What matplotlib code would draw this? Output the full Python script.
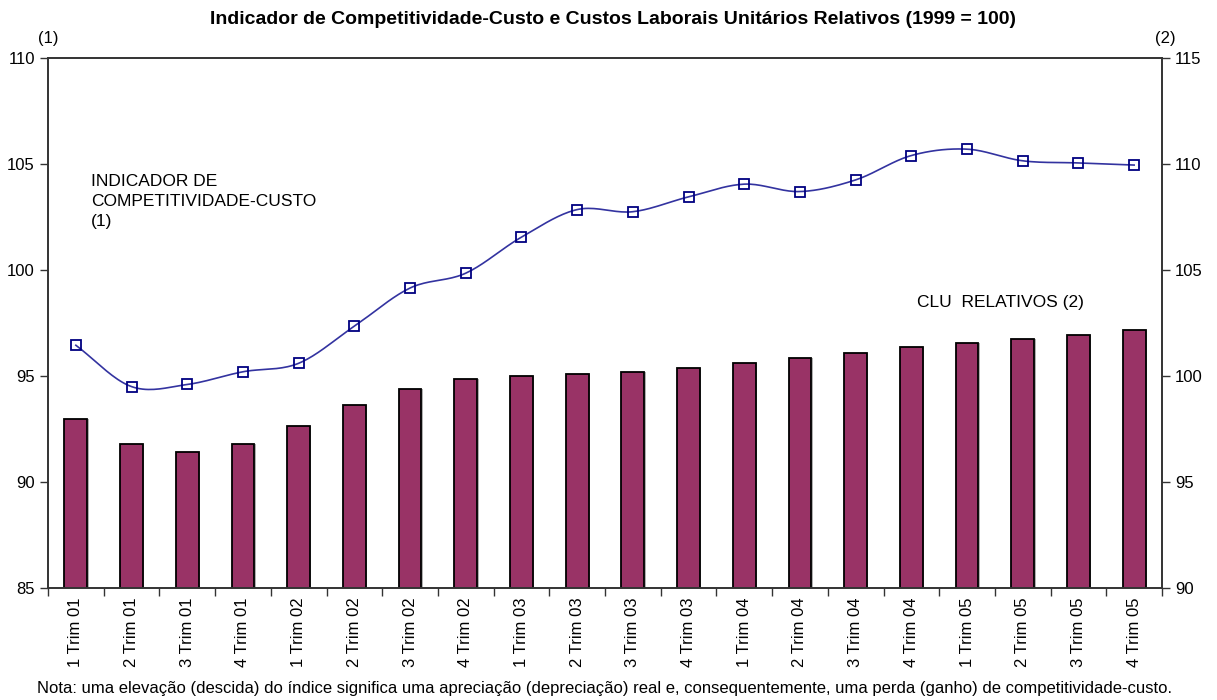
import numpy as np
import matplotlib.pyplot as plt

plt.rcParams['font.family'] = ['Liberation Sans', 'DejaVu Sans']

# quarters shown on the x axis
trimestres = ['1 Trim 01', '2 Trim 01', '3 Trim 01', '4 Trim 01',
              '1 Trim 02', '2 Trim 02', '3 Trim 02', '4 Trim 02',
              '1 Trim 03', '2 Trim 03', '3 Trim 03', '4 Trim 03',
              '1 Trim 04', '2 Trim 04', '3 Trim 04', '4 Trim 04',
              '1 Trim 05', '2 Trim 05', '3 Trim 05', '4 Trim 05']

# (1) competitiveness indicator, left axis
indicador = [96.45, 94.5, 94.6, 95.2, 95.6, 97.35, 99.15, 99.85,
             101.55, 102.85, 102.75, 103.45, 104.05, 103.7, 104.25, 105.4,
             105.7, 105.15, 105.05, 104.95]

# (2) relative unit labour costs, right axis
clu = [97.95, 96.8, 96.4, 96.8, 97.65, 98.65, 99.4, 99.85,
       100.0, 100.1, 100.2, 100.4, 100.6, 100.85, 101.1, 101.35,
       101.55, 101.75, 101.95, 102.15]

x = np.arange(len(trimestres))


def catmull_rom(xs, ys, n=20):
    # smooth curve through the points, like the spreadsheet's smoothed line
    px = np.concatenate([[2 * xs[0] - xs[1]], xs, [2 * xs[-1] - xs[-2]]])
    py = np.concatenate([[2 * ys[0] - ys[1]], ys, [2 * ys[-1] - ys[-2]]])
    outx, outy = [], []
    t = np.linspace(0, 1, n, endpoint=False)
    for i in range(1, len(px) - 2):
        for p, out in ((px, outx), (py, outy)):
            p0, p1, p2, p3 = p[i - 1], p[i], p[i + 1], p[i + 2]
            out.extend(0.5 * ((2 * p1) + (-p0 + p2) * t
                              + (2 * p0 - 5 * p1 + 4 * p2 - p3) * t ** 2
                              + (-p0 + 3 * p1 - 3 * p2 + p3) * t ** 3))
    outx.append(xs[-1])
    outy.append(ys[-1])
    return np.array(outx), np.array(outy)


fig = plt.figure(figsize=(12.17, 7.0), dpi=100)
ax = fig.add_axes([48 / 1217, 1 - 588 / 700, (1162 - 48) / 1217, (588 - 58) / 700])
ax2 = ax.twinx()

# bars on the right axis, drawn underneath the line
ax2.bar(x + 0.02, clu, width=0.42, color='#b0b0b0', zorder=1)
ax2.bar(x, clu, width=0.41, color='#993366', edgecolor='black', linewidth=1.3, zorder=2)
ax2.set_ylim(90, 115)
ax2.set_yticks(range(90, 116, 5))

ax.set_zorder(ax2.get_zorder() + 1)
ax.patch.set_visible(False)
sx, sy = catmull_rom(x.astype(float), np.array(indicador))
ax.plot(sx, sy, color='#3333a0', linewidth=1.2, zorder=3)
ax.plot(x, indicador, linestyle='none', marker='s', markersize=7,
        markerfacecolor='none', markeredgecolor='#000080', markeredgewidth=1.3, zorder=4)
ax.set_ylim(85, 110)
ax.set_yticks(range(85, 111, 5))
ax.set_xlim(-0.5, len(trimestres) - 0.5)

ax.set_xticks(x)
ax.set_xticklabels(trimestres, rotation=90, fontsize=12)
ax.tick_params(axis='x', length=0, pad=7)
ax.set_xticks(np.arange(-0.5, len(trimestres)), minor=True)
ax.tick_params(axis='x', which='minor', length=6, width=1, color='#333333')
for a in (ax, ax2):
    a.tick_params(axis='y', labelsize=12, length=6, width=1, color='#333333')
    for s in a.spines.values():
        s.set_color('#333333')
        s.set_linewidth(1.2)

ax.text(0.27, 104.55, 'INDICADOR DE\nCOMPETITIVIDADE-CUSTO\n(1)',
        fontsize=12.5, va='top', ha='left', linespacing=1.45)
ax.text(15.1, 98.1, 'CLU  RELATIVOS (2)', fontsize=12.5, ha='left', va='bottom')

fig.text(48 / 1217, 1 - 38 / 700, '(1)', fontsize=12, ha='center', va='center')
fig.text(1165 / 1217, 1 - 38 / 700, '(2)', fontsize=12, ha='center', va='center')
fig.text(0.504, 1 - 20 / 700,
         'Indicador de Competitividade-Custo e Custos Laborais Unitários Relativos (1999 = 100)',
         fontsize=14, fontweight='bold', ha='center', va='center')
fig.text(0.497, 1 - 689 / 700,
         'Nota: uma elevação (descida) do índice significa uma apreciação (depreciação) real e, '
         'consequentemente, uma perda (ganho) de competitividade-custo.',
         fontsize=12, ha='center', va='center')

fig.savefig('out.png', dpi=100)
